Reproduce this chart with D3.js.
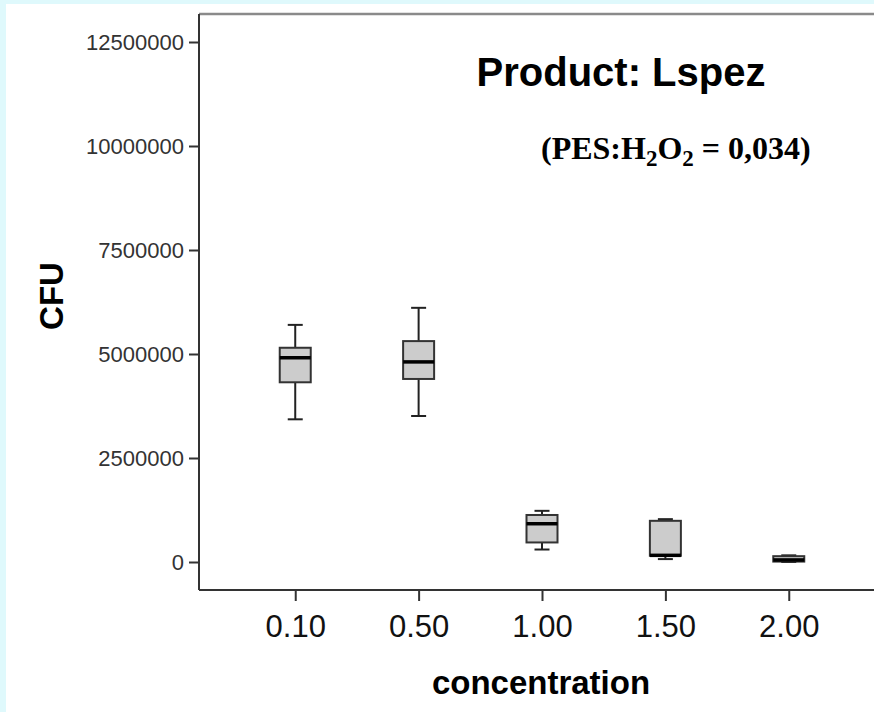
<!DOCTYPE html>
<html>
<head>
<meta charset="utf-8">
<script src="https://cdn.jsdelivr.net/npm/d3@7"></script>
<style>
  html, body { margin: 0; padding: 0; background: #dff9fc; }
  svg { display: block; }
</style>
</head>
<body>
<svg id="chart" width="874" height="712"></svg>
<script>
// chart values
var concentrations = ['0.10', '0.50', '1.00', '1.50', '2.00'];
var whiskerLow  = [3430000, 3510000,  300000,   70000,      0];
var q1          = [4320000, 4400000,  470000,  150000,  10000];
var medians     = [4910000, 4810000,  920000,  160000,  50000];
var q3          = [5150000, 5310000, 1130000,  990000, 140000];
var whiskerHigh = [5700000, 6110000, 1230000, 1030000, 160000];
var yTicks = [0, 2500000, 5000000, 7500000, 10000000, 12500000];

(function(){
    var svg = d3.select('#chart'),
        plotLeft = 199, plotRight = 885, plotTop = 14, plotBottom = 590,
        boxWidth = 31,
        capWidth = 15,
        sans = '"Liberation Sans", Arial, sans-serif';

    var x = d3.scalePoint()
        .domain(concentrations)
        .range([plotLeft, plotRight])
        .padding(0.78);

    var y = d3.scaleLinear()
        .domain([0, 12500000])
        .range([562, 42]);

    // white panel
    svg.append('rect')
        .attr('x', 6).attr('y', 4)
        .attr('width', 874).attr('height', 712)
        .attr('fill', '#ffffff');

    // frame top
    svg.append('line')
        .attr('x1', plotLeft).attr('x2', 874)
        .attr('y1', plotTop).attr('y2', plotTop)
        .attr('stroke', '#8a8a8a').attr('stroke-width', 2.5);

    // y axis
    var yAxis = svg.append('g')
        .attr('transform', 'translate(' + plotLeft + ',0)')
        .call(d3.axisLeft(y).tickValues(yTicks).tickSize(10).tickPadding(5).tickFormat(d3.format('d')));
    yAxis.select('.domain').attr('d', 'M0,' + plotTop + 'V' + plotBottom);
    yAxis.selectAll('line, .domain').attr('stroke', '#333').attr('stroke-width', 2);
    yAxis.selectAll('text')
        .attr('fill', '#333')
        .style('font-family', sans)
        .style('font-size', '22px');

    // x axis
    var xAxis = svg.append('g')
        .attr('transform', 'translate(0,' + plotBottom + ')')
        .call(d3.axisBottom(x).tickSize(11).tickPadding(14));
    xAxis.select('.domain').attr('d', 'M' + plotLeft + ',0H874');
    xAxis.selectAll('line, .domain').attr('stroke', '#333').attr('stroke-width', 2);
    xAxis.selectAll('text')
        .attr('fill', '#111')
        .style('font-family', sans)
        .style('font-size', '31px');

    // boxes
    var boxes = svg.append('g').selectAll('g')
        .data(concentrations)
        .join('g')
        .attr('transform', function(d){ return 'translate(' + x(d) + ',0)'; });

    boxes.append('line')
        .attr('y1', function(d, i){ return y(whiskerLow[i]); })
        .attr('y2', function(d, i){ return y(whiskerHigh[i]); })
        .attr('stroke', '#222').attr('stroke-width', 2);

    [whiskerLow, whiskerHigh].forEach(function(arr){
        boxes.append('line')
            .attr('x1', -capWidth / 2).attr('x2', capWidth / 2)
            .attr('y1', function(d, i){ return y(arr[i]); })
            .attr('y2', function(d, i){ return y(arr[i]); })
            .attr('stroke', '#222').attr('stroke-width', 2);
    });

    boxes.append('rect')
        .attr('x', -boxWidth / 2)
        .attr('width', boxWidth)
        .attr('y', function(d, i){ return y(q3[i]); })
        .attr('height', function(d, i){ return y(q1[i]) - y(q3[i]); })
        .attr('fill', '#cccccc')
        .attr('stroke', '#333').attr('stroke-width', 2);

    boxes.append('line')
        .attr('x1', -boxWidth / 2).attr('x2', boxWidth / 2)
        .attr('y1', function(d, i){ return y(medians[i]); })
        .attr('y2', function(d, i){ return y(medians[i]); })
        .attr('stroke', '#000').attr('stroke-width', 3.5);

    // axis titles
    svg.append('text')
        .attr('x', 541).attr('y', 694)
        .attr('text-anchor', 'middle')
        .style('font-family', sans)
        .style('font-weight', 'bold').style('font-size', '33px')
        .text('concentration');

    svg.append('text')
        .attr('transform', 'translate(63,296) rotate(-90)')
        .attr('text-anchor', 'middle')
        .style('font-family', sans)
        .style('font-weight', 'bold').style('font-size', '33px')
        .text('CFU');

    // titles
    svg.append('text')
        .attr('x', 621).attr('y', 86)
        .attr('text-anchor', 'middle')
        .style('font-family', sans)
        .style('font-weight', 'bold').style('font-size', '40px')
        .text('Product: Lspez');

    var sub = svg.append('text')
        .attr('x', 541).attr('y', 159)
        .style('font-family', '"Liberation Serif", "DejaVu Serif", serif')
        .style('font-weight', 'bold').style('font-size', '32px');
    sub.append('tspan').text('(PES:H');
    sub.append('tspan').attr('dy', 7).style('font-size', '23px').text('2');
    sub.append('tspan').attr('dy', -7).text('O');
    sub.append('tspan').attr('dy', 7).style('font-size', '23px').text('2');
    sub.append('tspan').attr('dy', -7).text(' = 0,034)');
})();
</script>
</body>
</html>
